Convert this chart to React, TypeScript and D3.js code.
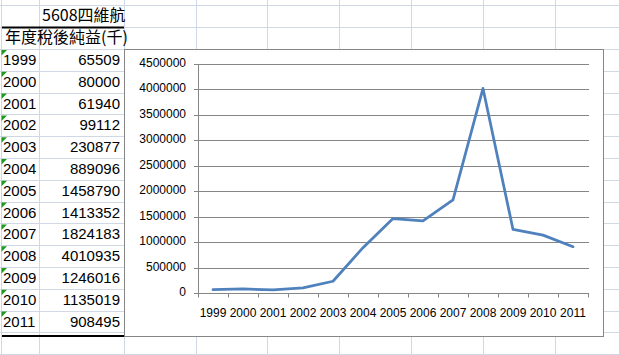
import React from "react";
import * as d3 from "d3";

const years = ["1999","2000","2001","2002","2003","2004","2005","2006","2007","2008","2009","2010","2011"];
const profits = [65509, 80000, 61940, 99112, 230877, 889096, 1458790, 1413352, 1824183, 4010935, 1246016, 1135019, 908495];
const yTicks = [0, 500000, 1000000, 1500000, 2000000, 2500000, 3000000, 3500000, 4000000, 4500000];
const titleText = "5608四維航";
const headerText = "年度稅後純益(千)";

const W = 619, H = 355;
const GRID = "#D0D7E5";
const AXIS = "#868686";
const LINE = "#4F81BD";
const NUM_FONT = "'Liberation Sans', Arial, sans-serif";
const CJK_FONT = "'Noto Sans CJK TC', 'Noto Sans CJK SC', sans-serif";

export default function App() {
  const colLines = [1, 39, 124, 196, 267, 339, 411, 483, 555];
  const rowH = 21.8;
  const rowLines = [5, 27, 49];
  for (let i = 1; i <= 15; i++) rowLines.push(49 + i * rowH);

  const x = d3.scaleBand<string>().domain(years).range([198, 588]).padding(0);
  const y = d3.scaleLinear().domain([0, 4500000]).range([293, 63.5]);
  const cx = (yr: string) => (x(yr) ?? 0) + x.bandwidth() / 2;
  const line = d3.line<number>().x((_, i) => cx(years[i])).y((v) => y(v));
  const px = (v: number) => Math.round(v) + 0.5;

  const boundaries = years.map((yr) => x(yr) ?? 0).concat([588]);

  return (
    <svg width={W} height={H} style={{ position: "absolute", left: 0, top: 0, background: "#fff" }}>
      <rect x={0} y={0} width={W} height={H} fill="#fff" />
      {colLines.map((c) => (
        <line key={"c" + c} x1={c + 0.5} x2={c + 0.5} y1={0} y2={H} stroke={GRID} />
      ))}
      {rowLines.map((r, i) => (
        <line key={"r" + i} x1={0} x2={W} y1={px(r)} y2={px(r)} stroke={GRID} />
      ))}
      <line x1={2} x2={124} y1={27.5} y2={27.5} stroke="#000" strokeWidth={2} />
      <line x1={2} x2={124} y1={336} y2={336} stroke="#000" strokeWidth={2} />
      <text x={42} y={17} dominantBaseline="middle" fontFamily={CJK_FONT} fontSize={16} fill="#000">{titleText}</text>
      <text x={5} y={39} dominantBaseline="middle" fontFamily={CJK_FONT} fontSize={16} fill="#000">{headerText}</text>
      {years.map((yr, i) => {
        const top = 49 + i * rowH;
        return (
          <g key={yr}>
            <path d={`M${1.5},${top + 1} L${7},${top + 1} L${1.5},${top + 6.5} Z`} fill="#1E9A1E" />
            <text x={3} y={top + 12} dominantBaseline="middle" fontFamily={NUM_FONT} fontSize={15} fill="#000">{yr}</text>
            <text x={120} y={top + 12} dominantBaseline="middle" textAnchor="end" fontFamily={NUM_FONT} fontSize={15} fill="#000">{profits[i]}</text>
          </g>
        );
      })}
      <rect x={124.5} y={49.5} width={479} height={287} fill="#fff" stroke={AXIS} strokeWidth={1} />
      {yTicks.map((t) => (
        <g key={t}>
          <line x1={194} x2={589} y1={px(y(t))} y2={px(y(t))} stroke={AXIS} strokeWidth={1} />
          <text x={186} y={y(t)} dominantBaseline="middle" textAnchor="end" fontFamily={NUM_FONT} fontSize={12} fill="#000">{t}</text>
        </g>
      ))}
      <line x1={198.5} x2={198.5} y1={px(y(4500000))} y2={px(y(0))} stroke={AXIS} />
      {boundaries.map((b, i) => (
        <line key={"t" + i} x1={px(b)} x2={px(b)} y1={px(y(0))} y2={px(y(0)) + 4} stroke={AXIS} />
      ))}
      {years.map((yr) => (
        <text key={"xl" + yr} x={cx(yr)} y={314} dominantBaseline="middle" textAnchor="middle" fontFamily={NUM_FONT} fontSize={12} fill="#000">{yr}</text>
      ))}
      <path d={line(profits) ?? ""} fill="none" stroke={LINE} strokeWidth={2.75} strokeLinejoin="round" strokeLinecap="round" />
    </svg>
  );
}
